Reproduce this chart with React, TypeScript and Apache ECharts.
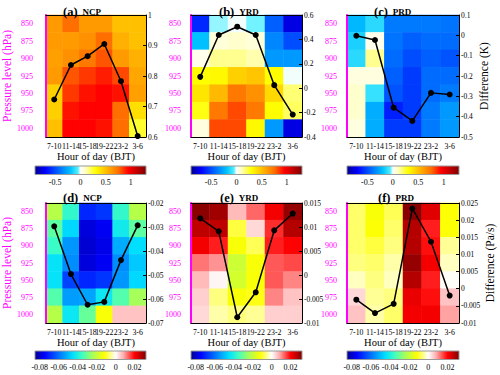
import React, { useEffect, useRef } from 'react';
import * as echarts from 'echarts';

const hours = ['7-10', '11-14', '15-18', '19-22', '23-2', '3-6'];
const levels = ['850', '875', '900', '925', '950', '975', '1000'];

// rows: 850 -> 1000 hPa, columns: hours
const heatA = [
  [0.62, 0.75, 0.62, 0.62, 0.5, 0.5],
  [0.62, 0.62, 0.65, 0.75, 0.55, 0.5],
  [0.6, 0.65, 0.72, 0.8, 0.62, 0.55],
  [0.62, 0.8, 0.85, 0.9, 0.82, 0.58],
  [0.45, 0.85, 0.92, 0.95, 0.92, 0.6],
  [0.45, 0.92, 0.95, 0.95, 0.75, 0.4],
  [0.5, 0.95, 0.95, 0.92, 0.75, 0.25],
];
const heatB = [
  [-0.6, -0.03, 0.0, -0.04, -0.45, -0.75],
  [-0.2, 0.06, 0.08, 0.06, -0.35, -0.5],
  [0.03, 0.15, 0.15, 0.12, -0.3, -0.3],
  [0.3, 0.32, 0.45, 0.48, 0.3, 0.0],
  [0.38, 0.52, 0.72, 0.65, 0.42, 0.18],
  [0.28, 0.72, 0.82, 0.72, 0.3, 0.2],
  [0.05, 0.82, 0.82, 0.32, -0.3, -0.75],
];
const heatC = [
  [-0.22, -0.12, -0.38, -0.38, -0.38, -0.4],
  [-0.15, 0.03, -0.4, -0.45, -0.42, -0.42],
  [-0.12, 0.15, -0.42, -0.5, -0.45, -0.48],
  [0.05, 0.05, -0.45, -0.55, -0.42, -0.42],
  [0.08, -0.1, -0.48, -0.55, -0.42, -0.38],
  [0.08, -0.25, -0.62, -0.55, -0.38, -0.3],
  [0.05, -0.25, -0.55, -0.55, -0.38, -0.3],
];
const heatD = [
  [-0.022, -0.037, -0.07, -0.068, -0.037, -0.022],
  [-0.032, -0.046, -0.078, -0.076, -0.042, -0.032],
  [-0.036, -0.055, -0.079, -0.077, -0.052, -0.045],
  [-0.044, -0.056, -0.078, -0.076, -0.056, -0.048],
  [-0.044, -0.066, -0.07, -0.068, -0.055, -0.046],
  [-0.033, -0.054, -0.053, -0.043, -0.033, -0.024],
  [-0.022, -0.043, -0.031, -0.013, 0.006, 0.006],
];
const heatE = [
  [0.031, 0.029, 0.007, 0.013, 0.021, 0.03],
  [0.026, 0.026, -0.009, 0.004, 0.017, 0.027],
  [0.021, 0.018, -0.013, -0.008, 0.018, 0.02],
  [0.012, 0.01, -0.019, -0.013, 0.014, 0.015],
  [0.007, 0.001, -0.018, -0.013, 0.014, 0.011],
  [0.005, -0.006, -0.013, -0.011, 0.011, 0.006],
  [0.004, -0.004, -0.006, -0.005, 0.005, 0.005],
];
const heatF = [
  [-0.007, -0.013, -0.008, 0.031, 0.023, -0.012],
  [-0.007, -0.012, -0.007, 0.027, 0.018, -0.012],
  [-0.007, -0.009, -0.006, 0.027, 0.019, -0.005],
  [-0.006, -0.007, -0.004, 0.03, 0.021, -0.003],
  [-0.003, -0.006, -0.003, 0.027, 0.018, 0.0],
  [0.004, -0.005, -0.006, 0.022, 0.019, 0.006],
  [0.006, -0.004, -0.007, 0.021, 0.021, 0.009],
];

const lineA = [0.723, 0.836, 0.865, 0.905, 0.783, 0.603];
const lineB = [0.093, 0.436, 0.504, 0.436, 0.025, -0.216];
const lineC = [-0.002, -0.023, -0.356, -0.421, -0.283, -0.291];
const lineD = [-0.0297, -0.0496, -0.0624, -0.0612, -0.0438, -0.0293];
const lineE = [0.0118, 0.0091, -0.0088, -0.0036, 0.0093, 0.0128];
const lineF = [-0.0032, -0.0071, -0.0044, 0.0234, 0.0137, -0.002];

const rightMin = [0.6, -0.4, -0.5, -0.07, -0.01, -0.01];
const rightMax = [1, 0.6, 0.1, -0.02, 0.015, 0.025];
const rightStep = [0.1, 0.2, 0.1, 0.01, 0.005, 0.005];

const letters = ['(a)', '(b)', '(c)', '(d)', '(e)', '(f)'];
const regions = ['NCP', 'YRD', 'PRD', 'NCP', 'YRD', 'PRD'];

const tempBarTicks = [-0.5, 0, 0.5, 1];
const omegaBarTicks = [-0.08, -0.06, -0.04, -0.02, 0, 0.02];
const tempRange = [-0.9, 1.3];
const omegaRange = [-0.085, 0.032];

const tempStops: [number, string][] = [
  [-0.9, '#00008f'], [-0.7, '#0000ff'], [-0.45, '#0060ff'], [-0.2, '#00c0ff'],
  [-0.05, '#50f0ff'], [0, '#ffffff'], [0.1, '#ffffc0'], [0.3, '#ffff00'],
  [0.55, '#ffb000'], [0.75, '#ff7000'], [0.95, '#ff0000'], [1.3, '#800000'],
];
const omegaStops: [number, string][] = [
  [-0.085, '#00008f'], [-0.075, '#0000ff'], [-0.06, '#0070ff'], [-0.045, '#00e0ff'],
  [-0.035, '#40ffc0'], [-0.025, '#a0ff60'], [-0.012, '#ffff00'], [0, '#ffffff'],
  [0.008, '#ffb0b0'], [0.02, '#ff0000'], [0.032, '#800000'],
];

const SERIF = '"Liberation Serif", "Times New Roman", serif';
const MAGENTA = '#ff00ff';

// layout
const colLeft = [35, 191, 347];
const colWidth = [111, 111, 112];
const rowTop = [15, 203];
const rowHeight = [122, 120];
const barTop = [166, 351];
const barHeight = 8.5;
const titleLeft = [63, 219, 374, 63, 220, 378];
const titleTop = [3, 189];

function hex(c: string) {
  return [1, 3, 5].map((i) => parseInt(c.slice(i, i + 2), 16));
}
function colorAt(stops: [number, string][], v: number) {
  if (v <= stops[0][0]) return stops[0][1];
  for (let i = 1; i < stops.length; i++) {
    if (v <= stops[i][0]) {
      const t = (v - stops[i - 1][0]) / (stops[i][0] - stops[i - 1][0]);
      const a = hex(stops[i - 1][1]);
      const b = hex(stops[i][1]);
      const m = a.map((x, k) => Math.round(x + (b[k] - x) * t));
      return `rgb(${m[0]},${m[1]},${m[2]})`;
    }
  }
  return stops[stops.length - 1][1];
}
function sampleColors(stops: [number, string][], min: number, max: number, n: number) {
  const out: string[] = [];
  for (let i = 0; i < n; i++) out.push(colorAt(stops, min + ((max - min) * i) / (n - 1)));
  return out;
}
function fmt(v: number) {
  return String(parseFloat(v.toFixed(4)));
}

export default function App() {
  const ref = useRef<HTMLDivElement>(null);
  useEffect(() => {
    if (!ref.current) return;
    const chart = echarts.init(ref.current, undefined, { renderer: 'svg' });
    const heats = [heatA, heatB, heatC, heatD, heatE, heatF];
    const lines = [lineA, lineB, lineC, lineD, lineE, lineF];

    const grids: any[] = [];
    const xAxes: any[] = [];
    const yAxes: any[] = [];
    const series: any[] = [];
    const visualMaps: any[] = [];
    const titles: any[] = [];

    for (let i = 0; i < 6; i++) {
      const r = Math.floor(i / 3);
      const c = i % 3;
      grids.push({ left: colLeft[c], top: rowTop[r], width: colWidth[c], height: rowHeight[r] });
    }
    for (let i = 0; i < 6; i++) {
      const r = Math.floor(i / 3);
      const c = i % 3;
      const rng = r === 0 ? tempRange : omegaRange;
      const stops = r === 0 ? tempStops : omegaStops;
      grids.push({
        left: colLeft[c], top: barTop[r], width: colWidth[c], height: barHeight,
        show: true, borderColor: '#999', borderWidth: 1,
        backgroundColor: new echarts.graphic.LinearGradient(0, 0, 1, 0,
          stops.map((s) => ({ offset: (s[0] - rng[0]) / (rng[1] - rng[0]), color: s[1] }))),
      });
    }
    // bottom category axes
    for (let i = 0; i < 6; i++) {
      xAxes.push({
        type: 'category', gridIndex: i, data: hours, position: 'bottom', z: 10,
        axisLine: { show: true, onZero: false, lineStyle: { color: '#000', width: 1 } },
        axisTick: { show: false },
        axisLabel: { interval: 0, fontSize: 7.8, color: '#000', fontFamily: SERIF, margin: 5 },
        name: 'Hour of day (BJT)', nameLocation: 'middle', nameGap: 13,
        nameTextStyle: { fontSize: 10.5, color: '#000', fontFamily: SERIF },
      });
    }
    // top border axes
    for (let i = 0; i < 6; i++) {
      xAxes.push({
        type: 'category', gridIndex: i, data: hours, position: 'top', z: 10,
        axisLine: { show: true, onZero: false, lineStyle: { color: '#000', width: 1 } },
        axisTick: { show: false }, axisLabel: { show: false },
      });
    }
    // colorbar axes
    for (let i = 0; i < 6; i++) {
      const r = Math.floor(i / 3);
      const rng = r === 0 ? tempRange : omegaRange;
      xAxes.push({
        type: 'value', gridIndex: 6 + i, min: rng[0], max: rng[1], position: 'bottom',
        axisLine: { show: false, onZero: false }, axisTick: { show: false }, splitLine: { show: false },
        axisLabel: {
          customValues: r === 0 ? tempBarTicks : omegaBarTicks,
          fontSize: 8, color: '#000', fontFamily: SERIF, margin: 4, formatter: (v: number) => fmt(v),
        },
      });
    }
    // left category axes
    for (let i = 0; i < 6; i++) {
      const c = i % 3;
      yAxes.push({
        type: 'category', gridIndex: i, data: levels, inverse: true, position: 'left', z: 10,
        axisLine: { show: true, onZero: false, lineStyle: { color: MAGENTA, width: 2 } },
        axisTick: { show: false },
        axisLabel: { fontSize: 8, color: MAGENTA, fontFamily: SERIF, margin: c === 0 ? 13 : 10 },
        name: c === 0 ? 'Pressure level (hPa)' : '', nameLocation: 'middle', nameGap: 21, nameRotate: 90,
        nameTextStyle: { fontSize: 11.5, color: MAGENTA, fontFamily: SERIF },
      });
    }
    // right value axes
    for (let i = 0; i < 6; i++) {
      const c = i % 3;
      yAxes.push({
        type: 'value', gridIndex: i, position: 'right', z: 10,
        min: rightMin[i], max: rightMax[i], interval: rightStep[i],
        axisLine: { show: true, onZero: false, lineStyle: { color: '#000', width: 1 } },
        axisTick: { show: true, inside: true, length: 3, lineStyle: { color: '#000' } },
        splitLine: { show: false },
        axisLabel: { fontSize: 7.5, color: '#000', fontFamily: SERIF, margin: 2, formatter: (v: number) => fmt(v) },
        name: c === 2 ? (i < 3 ? 'Difference (K)' : 'Difference (Pa/s)') : '',
        nameLocation: 'middle', nameGap: 19, nameRotate: 90,
        nameTextStyle: { fontSize: 11.5, color: '#000', fontFamily: SERIF },
      });
    }
    for (let i = 0; i < 6; i++) {
      yAxes.push({ type: 'value', gridIndex: 6 + i, show: false });
    }

    for (let i = 0; i < 6; i++) {
      const data: number[][] = [];
      heats[i].forEach((row, ri) => row.forEach((v, ci) => data.push([ci, ri, v])));
      series.push({
        type: 'heatmap', xAxisIndex: i, yAxisIndex: i, data, z: 2,
        itemStyle: { borderWidth: 0 }, emphasis: { disabled: true },
      });
    }
    for (let i = 0; i < 6; i++) {
      series.push({
        type: 'line', xAxisIndex: i, yAxisIndex: 6 + i, data: lines[i], z: 5,
        symbol: 'circle', symbolSize: 6,
        lineStyle: { color: '#000', width: 1.5 }, itemStyle: { color: '#000' },
      });
    }
    for (let i = 0; i < 6; i++) {
      const r = Math.floor(i / 3);
      const rng = r === 0 ? tempRange : omegaRange;
      const stops = r === 0 ? tempStops : omegaStops;
      visualMaps.push({
        type: 'continuous', show: false, seriesIndex: i, min: rng[0], max: rng[1],
        inRange: { color: sampleColors(stops, rng[0], rng[1], 120) },
      });
      titles.push({
        text: `{p|${letters[i]}} {q|${regions[i]}}`,
        left: titleLeft[i], top: titleTop[r], padding: 0,
        textStyle: {
          rich: {
            p: { fontSize: 12.5, fontFamily: SERIF, color: '#000' },
            q: { fontSize: 9, fontFamily: SERIF, color: '#000' },
          },
        },
      });
    }

    chart.setOption({
      animation: false,
      backgroundColor: '#fff',
      title: titles,
      grid: grids,
      xAxis: xAxes,
      yAxis: yAxes,
      visualMap: visualMaps,
      series,
    });
    return () => chart.dispose();
  }, []);
  return (
    <div
      ref={ref}
      style={{ position: 'fixed', left: 0, top: 0, width: 500, height: 375, background: '#fff' }}
    />
  );
}
